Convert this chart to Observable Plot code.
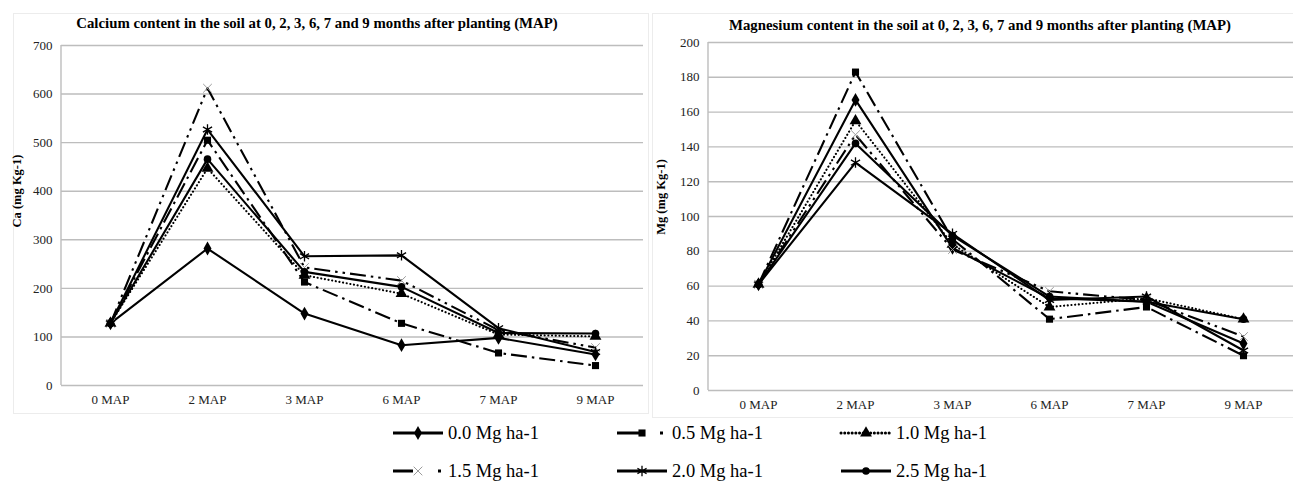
<!DOCTYPE html>
<html><head><meta charset="utf-8">
<script src="https://cdn.jsdelivr.net/npm/d3@7"></script>
<script src="https://cdn.jsdelivr.net/npm/@observablehq/plot@0.6"></script>
<style>
body{margin:0;background:#fff;font-family:"Liberation Serif","Times New Roman",serif;}
#wrap{position:relative;width:1293px;height:484px;overflow:hidden;background:#fff;}
.abs{position:absolute;}
.title{font-weight:bold;font-size:14.8px;white-space:nowrap;transform:translate(-50%,-50%);color:#000;}
.ylab{font-weight:bold;font-size:12.5px;white-space:nowrap;transform:translate(-50%,-50%) rotate(-90deg);color:#000;}
.legtxt{font-size:18.5px;white-space:nowrap;transform:translateY(-50%);color:#000;}
.frame{border:1px solid #ececec;box-sizing:border-box;}
</style></head>
<body><div id="wrap"></div>
<script>
// ---- data ----
const months = ["0 MAP", "2 MAP", "3 MAP", "6 MAP", "7 MAP", "9 MAP"];
const doses = ["0.0 Mg ha-1", "0.5 Mg ha-1", "1.0 Mg ha-1", "1.5 Mg ha-1", "2.0 Mg ha-1", "2.5 Mg ha-1"];
const caTitle = "Calcium content in the soil at 0, 2, 3, 6, 7 and 9 months after planting (MAP)";
const mgTitle = "Magnesium content in the soil at 0, 2, 3, 6, 7 and 9 months after planting (MAP)";
const caLabel = "Ca (mg Kg-1)";
const mgLabel = "Mg (mg Kg-1)";
const ca00 = [128, 282, 148, 83, 98, 64];
const ca05 = [128, 505, 213, 128, 67, 41];
const ca10 = [128, 447, 227, 189, 105, 101];
const ca15 = [128, 612, 243, 216, 114, 78];
const ca20 = [128, 527, 266, 268, 118, 69];
const ca25 = [128, 466, 234, 203, 108, 107];
const mg00 = [61, 167, 82, 53, 51, 27];
const mg05 = [61, 183, 87, 41, 48, 20];
const mg10 = [61, 155, 84, 48, 53, 41];
const mg15 = [61, 147, 81, 57, 52, 31];
const mg20 = [61, 131, 90, 52, 54, 23];
const mg25 = [61, 142, 89, 54, 51, 41];
const caTicks = [0, 100, 200, 300, 400, 500, 600, 700];
const mgTicks = [0, 20, 40, 60, 80, 100, 120, 140, 160, 180, 200];

// ---- styles ----
const styles = [
  {dash: null, legDash: null, cap: "butt", symbol: "diamond", r: 4.2, fill: "#000", stroke: "none", sw: 0},
  {dash: "16,5,2.5,5", legDash: "25,18,3,20", cap: "butt", symbol: "square", r: 4, fill: "#000", stroke: "none", sw: 0},
  {dash: "0.1,3.6", legDash: "0.1,3.6", cap: "round", symbol: "triangle", r: 4.4, fill: "#000", stroke: "none", sw: 0},
  {dash: "16,5,2.5,5,2.5,5", legDash: "20,25,3,20", cap: "butt", symbol: "times", r: 4, fill: "none", stroke: "#9a9a9a", sw: 1},
  {dash: null, legDash: null, cap: "butt", symbol: "asterisk", r: 5, fill: "none", stroke: "#000", sw: 1.3},
  {dash: null, legDash: null, cap: "butt", symbol: "circle", r: 3.8, fill: "#000", stroke: "none", sw: 0}
];

const wrap = document.getElementById("wrap");
function addDiv(cls, text, left, top, extra) {
  const d = document.createElement("div");
  d.className = "abs " + cls;
  if (text != null) d.textContent = text;
  d.style.left = left + "px"; d.style.top = top + "px";
  if (extra) Object.assign(d.style, extra);
  wrap.appendChild(d);
  return d;
}

function chart(series, ticks, yMax, box) {
  const rows = doses.flatMap((d, i) => months.map((m, j) => ({dose: d, month: m, value: series[i][j]})));
  const marks = [
    Plot.ruleY(ticks, {stroke: "#bdbdbd", strokeWidth: 1.4}),
    Plot.axisY(ticks, {tickSize: 0, tickPadding: 9, fontSize: 13, tickFormat: d => String(d), fill: "#222", label: null}),
    Plot.axisX(months, {tickSize: 0, tickPadding: 9, fontSize: 13, fill: "#222", label: null})
  ];
  doses.forEach((d, i) => {
    const s = styles[i];
    const data = rows.filter(r => r.dose === d);
    marks.push(Plot.line(data, {x: "month", y: "value", stroke: "#000", strokeWidth: 2.1,
      strokeDasharray: s.dash || undefined, strokeLinecap: s.cap, strokeLinejoin: "round"}));
    marks.push(Plot.dot(data, {x: "month", y: "value", symbol: s.symbol, r: s.r, fill: s.fill,
      stroke: s.stroke, strokeWidth: s.sw}));
  });
  const svg = Plot.plot({
    width: box.width, height: box.height,
    marginLeft: box.ml, marginRight: box.mr, marginTop: box.mt, marginBottom: box.mb,
    x: {type: "point", domain: months, padding: 0.5},
    y: {domain: [0, yMax]},
    style: {fontFamily: "Liberation Serif, Times New Roman, serif", background: "transparent", overflow: "visible"},
    marks
  });
  const g = d3.select(svg);
  g.append("line").attr("x1", box.ml).attr("x2", box.ml).attr("y1", box.mt).attr("y2", box.height - box.mb)
    .attr("stroke", "#bdbdbd").attr("stroke-width", 1.4);
  svg.style.position = "absolute";
  svg.style.left = box.left + "px";
  svg.style.top = "0px";
  wrap.appendChild(svg);
}

// frames
addDiv("frame", null, 13, 13, {width: "636px", height: "401px"});
addDiv("frame", null, 652, 13, {width: "645px", height: "405px"});

chart([ca00, ca05, ca10, ca15, ca20, ca25], caTicks, 700,
  {left: 0, width: 648, height: 413, ml: 61, mr: 5, mt: 45, mb: 28});
chart([mg00, mg05, mg10, mg15, mg20, mg25], mgTicks, 200,
  {left: 652, width: 641, height: 416, ml: 56, mr: 0, mt: 42, mb: 26});

addDiv("title", caTitle, 317, 23);
addDiv("title", mgTitle, 980, 25);
addDiv("ylab", caLabel, 17, 191);
addDiv("ylab", mgLabel, 661, 197);

// legend
const colX = [448, 672, 896];
const rowY = [433, 471];
doses.forEach((d, i) => {
  const s = styles[i];
  const tx = colX[i % 3], ty = rowY[Math.floor(i / 3)];
  const sv = d3.create("svg").attr("width", 54).attr("height", 18)
    .style("position", "absolute").style("left", (tx - 57) + "px").style("top", (ty - 9) + "px");
  sv.append("line").attr("x1", 2).attr("x2", 52).attr("y1", 9).attr("y2", 9)
    .attr("stroke", "#000").attr("stroke-width", 3)
    .attr("stroke-dasharray", s.legDash)
    .attr("stroke-linecap", s.cap);
  const symMap = {diamond: d3.symbolDiamond, square: d3.symbolSquare, triangle: d3.symbolTriangle,
    times: d3.symbolTimes, asterisk: d3.symbolAsterisk, circle: d3.symbolCircle};
  sv.append("path").attr("transform", "translate(27,9)")
    .attr("d", d3.symbol(symMap[s.symbol], s.r * s.r * Math.PI)())
    .attr("fill", s.fill).attr("stroke", s.stroke).attr("stroke-width", s.sw);
  wrap.appendChild(sv.node());
  addDiv("legtxt", d, tx, ty);
});
</script>
</body></html>
